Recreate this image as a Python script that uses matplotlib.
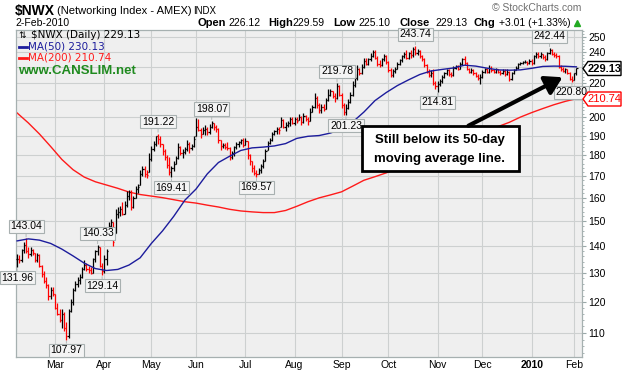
import numpy as np
import pandas as pd
import matplotlib
matplotlib.use("Agg")
import matplotlib.pyplot as plt
from matplotlib.ticker import FixedLocator, FixedFormatter, NullFormatter
from matplotlib.patches import Rectangle, Polygon, FancyArrowPatch

W, H = 623, 376

# 交易日 2009-02-04 .. 2010-02-02
holidays = ['2009-02-16', '2009-04-10', '2009-05-25', '2009-07-03', '2009-09-07',
            '2009-11-26', '2009-12-25', '2010-01-01', '2010-01-18']
dates = pd.bdate_range('2009-02-04', '2010-02-02', freq='C', holidays=holidays)

closes = [
    135, 134.5, 138.5, 140.5, 138, 137, 138.5, 137.5, 134.5, 136.5,
    132.5, 129.5, 127, 125.5, 122, 124, 122.5, 118, 116, 114,
    116, 111.5, 109, 117, 120, 124, 126, 127.5, 128.5, 131.5,
    133, 131.5, 131, 130, 135, 138, 139.5, 132.5, 130.5, 135,
    138, 148, 149.5, 141.5, 153, 154, 155, 153, 157, 161,
    162.5, 156, 160, 164, 165, 171, 173.5, 171, 170.5, 178,
    183, 186, 190, 188.5, 186, 182, 179, 175.5, 172, 174,
    176, 178.5, 184, 181, 181.8, 183, 186, 183.5, 185, 188.5,
    195, 193, 191, 193, 193.5, 192, 195, 197, 195, 193.5,
    188, 185, 185.5, 184.5, 183.5, 179, 181, 184, 186, 187,
    188, 185.5, 187.5, 180, 177, 174, 171.5, 171, 173, 175,
    177, 182, 186.5, 188, 191, 192.5, 193.5, 193, 198.5, 195,
    196, 197, 199, 197, 199, 198, 200.5, 197.5, 201, 199,
    198, 203, 206, 211, 207, 204, 206, 205, 210, 213,
    215, 212, 211, 218, 213, 207, 203, 205.5, 209, 213,
    219, 223, 229, 226, 230, 234, 232, 235, 237, 239.5,
    236, 232, 231, 235, 237, 233, 228, 225, 227.5, 229,
    232, 234.5, 237, 238.5, 236, 239, 237.5, 241.5, 239, 240.5,
    237, 235, 231, 227, 225, 226.5, 220, 218, 219.5, 221,
    224, 226, 228, 225.5, 225, 229.5, 230.5, 229, 232, 235,
    232.5, 229, 227, 228, 226, 224.5, 223, 224, 227, 228.5,
    227, 229.5, 228, 227, 228.5, 227, 226, 227.5, 225.5, 227,
    222.5, 226, 228, 229.5, 232, 232.5, 233, 233.5, 232.5, 234,
    232.5, 237, 238.5, 237, 238.5, 236.5, 235, 239, 241, 238.5,
    237.5, 237, 230, 229, 227.5, 228.5, 226.5, 222.5, 222, 226.12,
    229.13]

highs = [
    137, 136.5, 139, 141.5, 143.04, 139.5, 139.5, 139, 137.5, 137.5,
    137, 133, 130.5, 128.5, 126, 125, 125, 122.5, 119.5, 117.5,
    117.5, 116.5, 113.5, 117.6, 121, 124.5, 127, 128.5, 129.5, 132,
    134.5, 133.5, 132.5, 132, 135.5, 138.5, 140.33, 139.5, 133.5, 136.5,
    139, 149.5, 151, 149.5, 155, 156, 156.5, 158, 158.5, 163,
    163.5, 163.5, 161, 165.5, 166.5, 173, 175, 175, 173, 181,
    185, 187.5, 190, 191.22, 190, 186, 183, 180, 179, 175,
    177, 179.5, 186.5, 185, 183, 184, 188, 187, 186, 190,
    199.5, 199, 194, 194.5, 196, 195, 196.5, 198.07, 197, 196,
    194, 188, 186.5, 186.5, 187, 184, 182, 185, 187, 187.5,
    188.5, 189, 189, 187.5, 180.5, 177, 175.5, 173, 174, 176,
    178, 183, 187.5, 189, 192, 193, 194.5, 195, 200, 199,
    197.5, 198, 200, 200, 200, 200.5, 202, 201, 202.5, 201.5,
    200, 205.5, 207, 214, 212, 208, 207.5, 207.5, 211, 216.5,
    216.5, 215.5, 214, 219.78, 219, 214, 208, 207.5, 210.5, 214.5,
    221.5, 225.5, 231, 229.5, 232, 236, 236, 236, 239, 241,
    241, 237, 234.5, 236, 238.5, 238, 234, 229.5, 228.5, 230,
    233, 235.5, 238, 239.5, 241, 240, 241, 243, 243.74, 241.5,
    241, 238, 236, 232, 229, 228, 228.5, 221, 221, 222.5,
    225, 227, 229, 228.5, 227, 230.5, 231.5, 231, 233, 236,
    237, 233, 229.5, 229.5, 228.5, 227, 225.5, 225.5, 228, 229.5,
    229.5, 231, 230.5, 229, 229.5, 229, 228, 228.5, 228.5, 228.5,
    227.5, 227, 229, 230.5, 232.5, 233.5, 234, 234.5, 234, 235,
    235, 238, 240, 239.5, 239.5, 238.5, 237.5, 240, 242.44, 241.5,
    239.5, 239, 237.5, 231.5, 230, 229.5, 229, 227, 224.5, 226.5,
    229.59]

lows = [
    131.96, 133.5, 134, 137.5, 137.5, 135.5, 136, 136.5, 134, 134,
    132, 128.5, 126.5, 124.5, 120.5, 121, 122, 117.5, 115.5, 113.5,
    111.5, 110.5, 107.97, 108.6, 116.5, 119, 123.5, 125, 126, 128,
    131, 130.5, 130, 129.5, 129.8, 134, 136.5, 132, 129.14, 130,
    133, 143, 146, 140, 145, 151.5, 152, 152.5, 153, 156,
    159, 154.5, 155.5, 160, 162, 166, 170, 169.5, 169, 172,
    177, 182, 185, 186, 184.5, 180, 177.5, 174, 170.5, 169.41,
    172.5, 176, 178, 180, 178.5, 180.5, 182, 181, 182.5, 184.5,
    190, 192.5, 189, 191, 190.5, 190.5, 191, 194, 193, 192,
    186.5, 182.5, 183.5, 183, 182.5, 177.5, 178, 179.5, 183, 184.5,
    186, 184.5, 185.5, 178, 175.5, 172, 170.5, 169.57, 171, 171.5,
    174, 177, 182.5, 186, 187.5, 190.5, 191, 191, 194.5, 194,
    192.5, 194.5, 195.5, 196.5, 196, 197, 198.5, 196, 197, 198,
    196, 198, 203, 205.5, 205.5, 202.5, 202.5, 203.5, 205, 209.5,
    212, 211, 209, 210.5, 212, 205.5, 201.5, 201.23, 204.5, 208,
    212.5, 217.5, 222, 225, 225.5, 229.5, 231, 231.5, 234, 236.5,
    235, 230.5, 230, 230.5, 234, 232, 227, 223.5, 224, 226.5,
    228.5, 231, 233.5, 236, 235, 235, 236, 236.5, 238, 237.5,
    236, 234, 230, 226.5, 224, 224, 219, 216.5, 214.81, 218,
    220, 223, 225, 224.5, 223.5, 224.5, 228.5, 228, 228.5, 231.5,
    231.5, 228, 226.5, 226, 225, 223.5, 222, 219.5, 223, 226.5,
    226, 226.5, 227, 226, 226.5, 226, 225, 225.5, 224.5, 225,
    221.5, 222, 225.5, 228, 229, 231, 232, 232.5, 231.5, 232,
    231.5, 232, 236, 236, 236, 235.5, 234, 234.5, 238.5, 237.5,
    236.5, 236, 229.5, 227.5, 227, 226.5, 225.5, 222, 220.8, 222,
    225.10]

# 均线, 每5个交易日读一次
ma_step = 5
ma50 = [142, 142.8, 142.3, 141, 138.8, 136.2, 133.5, 131.5, 130.8, 131.2,
        132.8, 135.5, 141, 146, 152, 159, 164, 171, 176.5, 179.6,
        182.5, 183.8, 184.2, 184.8, 186, 188.7, 189.8, 190.2, 191.5, 193.6,
        197.5, 203, 209.6, 214.3, 218.5, 222, 225.3, 227.5, 228.5, 229.4,
        231.2, 230.6, 229.3, 228.2, 228, 228.2, 229.2, 230.4, 230.6, 230.5,
        230.13]
ma200 = [202.5, 197, 191, 184.5, 178, 173, 169.5, 167.3, 165.8, 164.3,
         162.6, 161.5, 160.8, 160.1, 159.2, 158.3, 157.7, 156.8, 156, 155,
         154.3, 153.9, 153.6, 153.6, 154.5, 156.3, 158.3, 160, 161.3, 162.7,
         165.3, 168, 169.7, 171.5, 173.6, 176, 179.2, 181.2, 183.1, 185.8,
         187.8, 190, 192.5, 195, 197.3, 200.2, 202.7, 205, 207.2, 209.1,
         210.74]

# 标注的高低点 (交易日序号)
peak_idx = [4, 36, 63, 87, 143, 178, 238]
trough_idx = [0, 22, 38, 69, 107, 147, 188, 248]

yticks = list(range(110, 260, 10))
# 230 和 210 被右侧价格标记挡住
ylabels = ['' if v in (210, 230) else str(v) for v in yticks]


def fx(x):
    return x / W


def fy(y):
    return 1 - y / H


def main():
    fig = plt.figure(figsize=(W / 100, H / 100), dpi=100)
    fig.patch.set_facecolor('white')
    ax = fig.add_axes([fx(16), 1 - 357 / H, 566 / W, 327 / H])
    ax.set_facecolor('#efefef')

    c = np.array(closes)
    hi = np.array(highs)
    lo = np.array(lows)
    x = np.arange(len(c))
    prev = np.r_[c[0], c[:-1]]
    opens = np.clip(prev, lo, hi)
    colors = ['black' if (i == 0 or c[i] >= prev[i]) else '#ff0000' for i in range(len(c))]

    ax.vlines(x, lo, hi, colors=colors, lw=0.9, zorder=3)
    ax.hlines(opens, x - 0.5, x, colors=colors, lw=0.9, zorder=3)
    ax.hlines(c, x, x + 0.5, colors=colors, lw=0.9, zorder=3)

    mx = np.arange(len(ma50)) * ma_step
    ax.plot(mx, ma200, color='#ff1a1a', lw=1.0, zorder=2)
    ax.plot(mx, ma50, color='#1c1c9c', lw=1.0, zorder=4)

    ax.set_yscale('log')
    ax.set_ylim(102.9, 254.9)
    ax.set_xlim(-0.5, 252.5)

    ax.yaxis.tick_right()
    ax.yaxis.set_major_locator(FixedLocator(yticks))
    ax.yaxis.set_major_formatter(FixedFormatter(ylabels))
    ax.yaxis.set_minor_locator(FixedLocator(list(range(104, 256, 2))))
    ax.yaxis.set_minor_formatter(NullFormatter())

    month_first = [i for i in range(1, len(dates)) if dates[i].month != dates[i - 1].month]
    mlabels = [str(dates[i].year) if dates[i].month == 1 else dates[i].strftime('%b')
               for i in month_first]
    ax.set_xticks(month_first)
    ax.set_xticklabels(mlabels)
    for t in ax.get_xticklabels():
        if t.get_text() == '2010':
            t.set_fontweight('bold')

    ax.tick_params(axis='both', which='both', labelsize=7.5, colors='#333333',
                   labelcolor='black', length=0, pad=2)
    ax.tick_params(axis='y', which='minor', length=1.5, color='#9aa8a8', direction='out')
    ax.tick_params(axis='y', which='major', length=3, color='#9aa8a8', direction='out', pad=1.5)
    for t in ax.get_xticklabels() + ax.get_yticklabels():
        t.set_family('Liberation Sans')

    ax.grid(True, which='major', color='#cdd0d0', lw=0.8, zorder=0)
    for s in ax.spines.values():
        s.set_color('#a6b0b0')
        s.set_linewidth(0.9)

    # 高低点标签
    box = dict(boxstyle='square,pad=0.15', fc='#f4f4f4', ec='#a8b0b0', lw=0.8)
    for i in peak_idx:
        ax.annotate(f'{highs[i]:.2f}', xy=(i, highs[i]), xytext=(0, 5), textcoords='offset points',
                    ha='center', va='bottom', fontsize=7.5, family='Liberation Sans', bbox=box,
                    arrowprops=dict(arrowstyle='-', color='#a8b0b0', lw=0.6, shrinkA=0, shrinkB=1),
                    zorder=6)
    for i in trough_idx:
        ax.annotate(f'{lows[i]:.2f}', xy=(i, lows[i]), xytext=(0, -4), textcoords='offset points',
                    ha='center', va='top', fontsize=7.5, family='Liberation Sans', bbox=box,
                    arrowprops=dict(arrowstyle='-', color='#a8b0b0', lw=0.6, shrinkA=0, shrinkB=1),
                    zorder=6)

    # 左上角图例
    fig.text(fx(18.5), fy(35), '\u21c5', fontsize=6.5, va='center', ha='left', family='DejaVu Sans')
    fig.text(fx(31), fy(35), '\\$NWX (Daily) 229.13', fontsize=7.5, va='center', family='DejaVu Sans')
    fig.add_artist(plt.Line2D([fx(19), fx(27)], [fy(46.5), fy(46.5)], color='#1c1c9c', lw=2))
    fig.text(fx(28.5), fy(46.5), 'MA(50) 230.13', fontsize=7.5, va='center', color='#1c1c9c',
             family='DejaVu Sans')
    fig.add_artist(plt.Line2D([fx(19), fx(27)], [fy(57.5), fy(57.5)], color='#ff1a1a', lw=2))
    fig.text(fx(28.5), fy(57.5), 'MA(200) 210.74', fontsize=7.5, va='center', color='#ff1a1a',
             family='DejaVu Sans')
    fig.text(fx(18), fy(71), 'www.CANSLIM.net', fontsize=9.5, fontweight='bold', va='center',
             color='#1f8a1f', family='Liberation Sans')

    # 标题
    fig.text(fx(15), fy(11), '\\$NWX', fontsize=10, fontweight='bold', va='center',
             family='Liberation Sans')
    fig.text(fx(57), fy(11), '(Networking Index - AMEX)', fontsize=8, va='center',
             family='Liberation Sans')
    fig.text(fx(193), fy(11.5), 'INDX', fontsize=7, va='center', family='Liberation Sans')
    fig.text(fx(15), fy(23), '2-Feb-2010', fontsize=7.5, va='center', family='Liberation Sans')
    fig.text(fx(581), fy(8), '\u00a9 StockCharts.com', fontsize=7.5, va='center', ha='right',
             color='#707070', family='Liberation Sans')
    parts = [(197, 'Open', True), (228, '226.12', False), (268, 'High', True), (292, '229.59', False),
             (333, 'Low', True), (358, '225.10', False), (399, 'Close', True), (435, '229.13', False),
             (474, 'Chg', True), (499, '+3.01 (+1.33%)', False)]
    for px, s, b in parts:
        fig.text(fx(px), fy(23), s, fontsize=8 if b else 7.5, fontweight='bold' if b else 'normal',
                 va='center', family='Liberation Sans')
    fig.add_artist(plt.Line2D([fx(577)], [fy(23)], marker='^', color='#22aa22', ms=4.5, lw=0))

    # 右侧价格标记
    for yc, txt, col, wgt in [(68.5, '229.13', 'black', 'bold'), (99, '210.74', '#ff0000', 'normal')]:
        pts = [(583, yc), (588, yc - 7), (621, yc - 7), (621, yc + 7), (588, yc + 7)]
        fig.add_artist(Polygon([(fx(a), fy(b)) for a, b in pts], closed=True, fc='white', ec=col,
                               lw=1.0, transform=fig.transFigure))
        fig.text(fx(604.5), fy(yc), txt, fontsize=8, fontweight=wgt, color=col, va='center',
                 ha='center', family='Liberation Sans')

    # 说明框和箭头
    fig.add_artist(Rectangle((fx(362), fy(171)), (519 - 362) / W, 45 / H, fc='white', ec='black',
                             lw=2, transform=fig.transFigure, zorder=8))
    fig.text(fx(440), fy(140), 'Still below its 50-day', fontsize=9.5, fontweight='bold',
             ha='center', va='center', family='Liberation Sans', zorder=9)
    fig.text(fx(440), fy(159), 'moving average line.', fontsize=9.5, fontweight='bold',
             ha='center', va='center', family='Liberation Sans', zorder=9)
    fig.add_artist(FancyArrowPatch((fx(466), fy(127)), (fx(565), fy(76)), transform=fig.transFigure,
                                   arrowstyle='-|>,head_length=10,head_width=6', lw=3,
                                   color='black', mutation_scale=1, zorder=9))

    fig.savefig('out.png', dpi=100, facecolor='white')


if __name__ == '__main__':
    main()
